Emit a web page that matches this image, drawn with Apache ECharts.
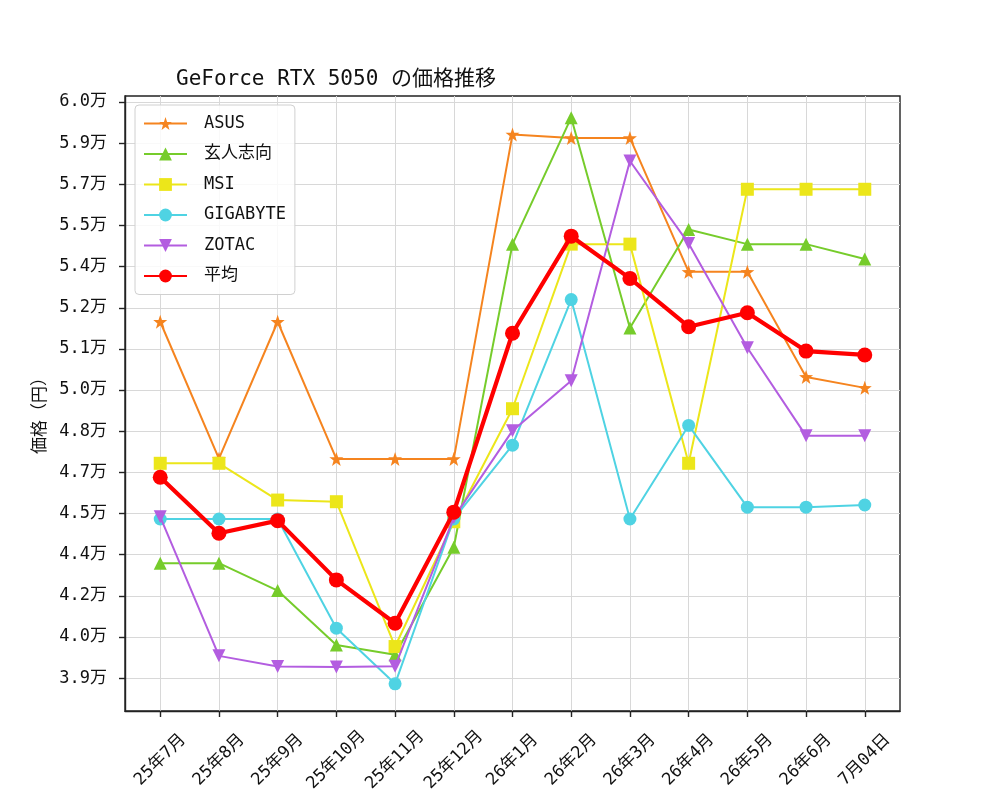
<!DOCTYPE html>
<html>
<head>
<meta charset="utf-8">
<script src="https://cdn.jsdelivr.net/npm/echarts@6/dist/echarts.min.js"></script>
<style>
html,body{margin:0;padding:0;background:#fff;}
#chart{width:1000px;height:800px;}
</style>
</head>
<body>
<div id="chart"></div>
<script>
const categories = ['25年7月','25年8月','25年9月','25年10月','25年11月','25年12月','26年1月','26年2月','26年3月','26年4月','26年5月','26年6月','7月04日'];
const asus       = [51990, 47000, 51990, 46990, 46990, 46990, 58820, 58690, 58690, 53810, 53810, 49980, 49580];
const kuroshikou = [43190, 43190, 42190, 40210, 39850, 43770, 54820, 59430, 51760, 55350, 54820, 54820, 54280];
const msi        = [46830, 46830, 45490, 45430, 40150, 44700, 48820, 54820, 54820, 46830, 56820, 56820, 56820];
const gigabyte   = [44800, 44800, 44800, 40820, 38790, 44800, 47490, 52800, 44800, 48210, 45230, 45230, 45310];
const zotac      = [44880, 39810, 39420, 39400, 39430, 44850, 48020, 49840, 57850, 54840, 51040, 47830, 47830];
const average    = [46320, 44280, 44740, 42580, 41000, 45050, 51570, 55110, 53570, 51810, 52320, 50920, 50780];
const yTickValues = [39000, 40500, 42000, 43500, 45000, 46500, 48000, 49500, 51000, 52500, 54000, 55500, 57000, 58500, 60000];
const yTickLabels = ['3.9万','4.0万','4.2万','4.4万','4.5万','4.7万','4.8万','5.0万','5.1万','5.2万','5.4万','5.5万','5.7万','5.9万','6.0万'];

const FONT = "'DejaVu Sans Mono', 'Noto Sans CJK JP', monospace";
const STAR = 'path://M0,-10 L2.35,-3.24 L9.51,-3.09 L3.8,1.24 L5.88,8.09 L0,4 L-5.88,8.09 L-3.8,1.24 L-9.51,-3.09 L-2.35,-3.24 Z';
const xIdx = categories.map((_, i) => i);
const pairs = arr => arr.map((v, i) => [i, v]);

function mk(name, arr, color, symbol, size, width, extra) {
  return Object.assign({
    name: name,
    type: 'line',
    data: pairs(arr),
    symbol: symbol,
    symbolSize: size,
    showAllSymbol: true,
    lineStyle: { color: color, width: width },
    itemStyle: { color: color, borderWidth: 0 },
    emphasis: { disabled: true },
    animation: false
  }, extra || {});
}

const chart = echarts.init(document.getElementById('chart'), null, { renderer: 'canvas' });
const axisColor = '#222';
chart.setOption({
  backgroundColor: '#fff',
  textStyle: { fontFamily: FONT },
  title: {
    text: 'GeForce RTX 5050 の価格推移',
    left: 171, top: 63,
    textStyle: { fontFamily: FONT, fontSize: 21, fontWeight: 'normal', color: '#111', lineHeight: 24 }
  },
  legend: {
    orient: 'vertical',
    left: 135, top: 105,
    padding: [10, 9, 10, 8],
    itemWidth: 43, itemHeight: 16, itemGap: 13.5,
    backgroundColor: 'rgba(255,255,255,0.85)',
    borderColor: '#d0d0d0', borderWidth: 1, borderRadius: 4,
    textStyle: { fontFamily: FONT, fontSize: 17, color: '#111', padding: [0, 0, 0, 12] },
    data: ['ASUS', '玄人志向', 'MSI', 'GIGABYTE', 'ZOTAC', '平均']
  },
  grid: {
    left: 125, right: 100, top: 96, bottom: 89,
    show: true, borderColor: axisColor, borderWidth: 1.4, backgroundColor: 'transparent'
  },
  xAxis: {
    type: 'value',
    min: -0.6, max: 12.6,
    axisLine: { show: true, onZero: false, lineStyle: { color: axisColor, width: 1.4 } },
    axisTick: { show: true, length: 6, customValues: xIdx, lineStyle: { color: axisColor, width: 1.4 } },
    axisLabel: {
      customValues: xIdx,
      formatter: v => categories[Math.round(v)],
      rotate: 45, align: 'center', verticalAlign: 'middle', margin: 49,
      fontFamily: FONT, fontSize: 17, color: '#111', hideOverlap: false
    },
    splitLine: { show: true, lineStyle: { color: '#d8d8d8', width: 1 } }
  },
  yAxis: {
    type: 'value',
    min: 37800, max: 60220,
    name: '価格（円）',
    nameLocation: 'middle', nameRotate: 90, nameGap: 78,
    nameTextStyle: { fontFamily: "'Noto Sans CJK JP', sans-serif", fontSize: 17, color: '#111', padding: [0, 16, 0, 0] },
    axisLine: { show: true, onZero: false, lineStyle: { color: axisColor, width: 1.4 } },
    axisTick: { show: true, length: 6, customValues: yTickValues, lineStyle: { color: axisColor, width: 1.4 } },
    axisLabel: {
      customValues: yTickValues,
      formatter: v => { const k = yTickValues.indexOf(v); return k >= 0 ? yTickLabels[k] : ''; },
      margin: 18, fontFamily: FONT, fontSize: 17, color: '#111'
    },
    splitLine: { show: true, lineStyle: { color: '#d8d8d8', width: 1 } }
  },
  series: [
    mk('ASUS', asus, '#f5841f', STAR, 14, 2, { z: 2 }),
    mk('玄人志向', kuroshikou, '#76cc2b', 'triangle', 13, 2, { z: 3 }),
    mk('MSI', msi, '#ece61a', 'rect', 13, 2, { z: 4 }),
    mk('GIGABYTE', gigabyte, '#4fd3e3', 'circle', 13, 2, { z: 5 }),
    mk('ZOTAC', zotac, '#b35de0', 'triangle', 13, 2, { z: 6, symbolRotate: 180 }),
    mk('平均', average, '#ff0000', 'circle', 15, 4.2, { z: 7 })
  ]
});
</script>
</body>
</html>
